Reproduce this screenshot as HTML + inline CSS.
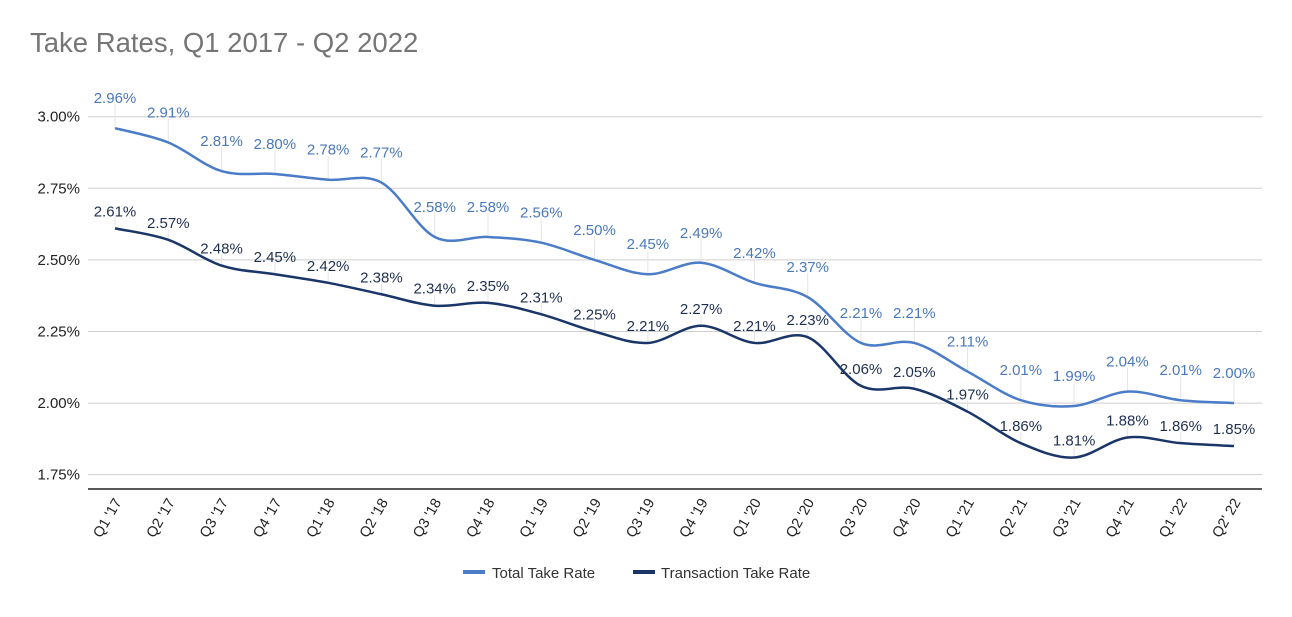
<!DOCTYPE html>
<html><head><meta charset="utf-8"><style>
body{margin:0;background:#fff;font-family:"Liberation Sans",sans-serif}
svg text{font-family:"Liberation Sans",sans-serif}
</style></head><body>
<svg width="1292" height="612" viewBox="0 0 1292 612">
<rect width="1292" height="612" fill="#fff"/>
<text x="30" y="52" font-size="27.5" fill="#757575">Take Rates, Q1 2017 - Q2 2022</text>
<g id="grid"></g><g id="leaders"></g><g id="lines"></g><g id="labels"></g><g id="xaxis"></g>
<g>
<g><rect x="463" y="570" width="22" height="4" fill="#4a7cc7"/><text x="492" y="578" font-size="15" fill="#333">Total Take Rate</text></g>
<g><rect x="633" y="570" width="22" height="4" fill="#1a3668"/><text x="661" y="578" font-size="15" fill="#333">Transaction Take Rate</text></g>
</g>
</svg>
<script>
const categories=["Q1 '17","Q2 '17","Q3 '17","Q4 '17","Q1 '18","Q2 '18","Q3 '18","Q4 '18","Q1 '19","Q2 '19","Q3 '19","Q4 '19","Q1 '20","Q2 '20","Q3 '20","Q4 '20","Q1 '21","Q2 '21","Q3 '21","Q4 '21","Q1 '22","Q2' 22"];
const totalRate=[2.96,2.91,2.81,2.80,2.78,2.77,2.58,2.58,2.56,2.50,2.45,2.49,2.42,2.37,2.21,2.21,2.11,2.01,1.99,2.04,2.01,2.00];
const transactionRate=[2.61,2.57,2.48,2.45,2.42,2.38,2.34,2.35,2.31,2.25,2.21,2.27,2.21,2.23,2.06,2.05,1.97,1.86,1.81,1.88,1.86,1.85];
const yTicks=[1.75,2.00,2.25,2.50,2.75,3.00];
const NS="http://www.w3.org/2000/svg";
const yMin=1.70,yMax=3.00,yTop=116.7,yBot=489;
function y(v){return yBot-(v-yMin)/(yMax-yMin)*(yBot-yTop);}
function x(i){return 115+i*(1234-115)/(categories.length-1);}
function mk(tag,attrs,parent){const e=document.createElementNS(NS,tag);for(const k in attrs)e.setAttribute(k,attrs[k]);document.getElementById(parent).appendChild(e);return e;}
yTicks.forEach(t=>{
 const l=mk('line',{x1:88,x2:1262,y1:y(t),y2:y(t),stroke:'#cfcfcf','stroke-width':1},'grid');
 
 
 const tx=mk('text',{x:80,y:y(t)+5,'font-size':15,'text-anchor':'end',fill:'#222'},'grid');
 tx.textContent=t.toFixed(2)+'%';
 
 
});
const ax=mk('line',{x1:88,x2:1262,y1:yBot,y2:yBot,stroke:'#222','stroke-width':1.5},'grid');


categories.forEach((c,i)=>{
 const t=mk('text',{transform:`translate(${x(i)+7},${yBot+13}) rotate(-60)`,'font-size':14.5,'text-anchor':'end',fill:'#222'},'xaxis');
 t.textContent=c;
 
 
});
function path(vals){
 const p=vals.map((v,i)=>[x(i),y(v)]);
 let d=`M${p[0][0]},${p[0][1]}`;
 for(let i=0;i<p.length-1;i++){
  const p0=p[Math.max(0,i-1)],p1=p[i],p2=p[i+1],p3=p[Math.min(p.length-1,i+2)];
  const c1=[p1[0]+(p2[0]-p0[0])/6,p1[1]+(p2[1]-p0[1])/6];
  const c2=[p2[0]-(p3[0]-p1[0])/6,p2[1]-(p3[1]-p1[1])/6];
  d+=` C${c1[0]},${c1[1]} ${c2[0]},${c2[1]} ${p2[0]},${p2[1]}`;
 }
 return d;
}
[[totalRate,'#4a7cc7','#4a78b8',30,'total'],[transactionRate,'#1a3668','#1f2f50',17,'transaction']].forEach(([vals,col,lc,off,name])=>{
 const ln=mk('path',{d:path(vals),fill:'none',stroke:col,'stroke-width':2.5},'lines');
 
 
 vals.forEach((v,i)=>{
  const ld=mk('line',{x1:x(i),x2:x(i),y1:y(v)-off+6,y2:y(v),stroke:'#e4e4e4','stroke-width':1},'leaders');
  
  
  const t=mk('text',{x:x(i),y:y(v)-off+5,'font-size':15,'text-anchor':'middle',fill:lc},'labels');
  t.textContent=v.toFixed(2)+'%';
  
  
 });
});
</script>
</body></html>
